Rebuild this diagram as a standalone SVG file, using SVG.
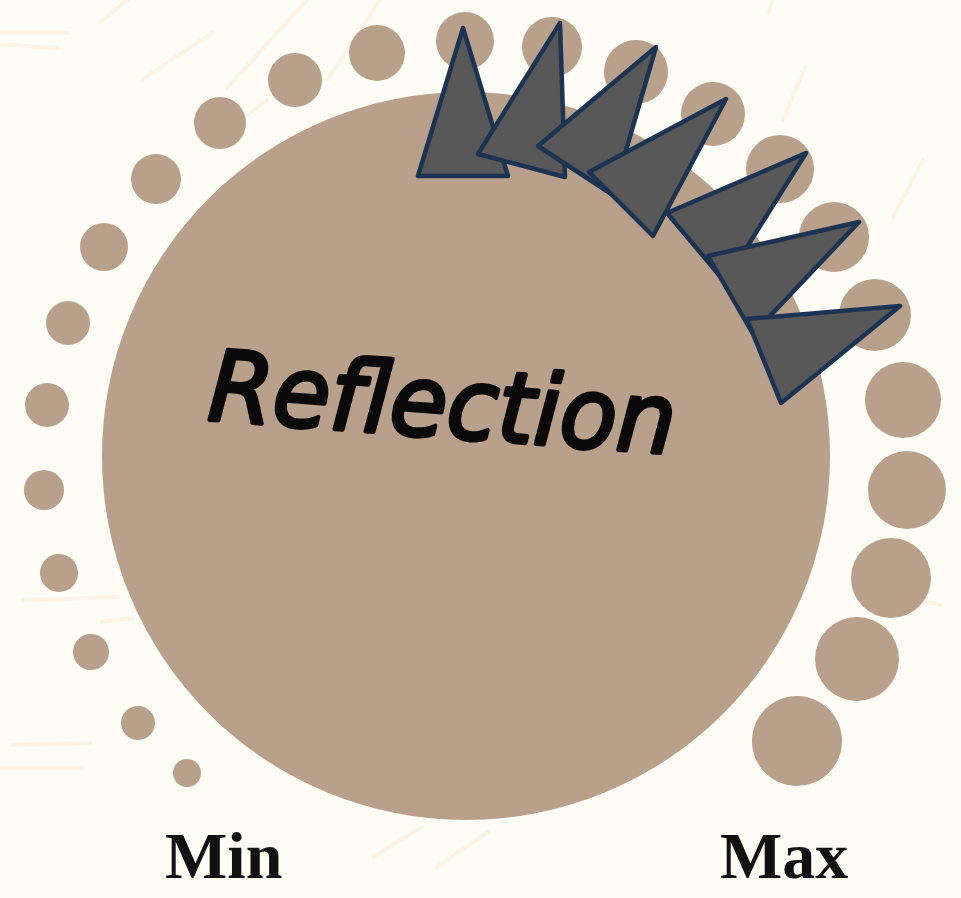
<svg xmlns="http://www.w3.org/2000/svg" width="961" height="898" viewBox="0 0 961 898">
<style>
.bg{fill:#fdfcf5}
.streak{stroke:#fbf1df;stroke-width:4;stroke-linecap:round;fill:none;opacity:0.7}
.dot{fill:#b8a08a}
.tri{fill:#585858;stroke:#1c3453;stroke-width:4.5;stroke-linejoin:round}
.title{font-family:"DejaVu Sans",sans-serif;font-style:italic;font-size:98px;fill:#0a0a0a;stroke:#0a0a0a;stroke-width:4;stroke-linejoin:round;stroke-linecap:round}
.lbl{font-family:"Liberation Serif",serif;font-weight:bold;font-size:66px;fill:#111}
</style>
<rect class="bg" x="0" y="0" width="961" height="898"/>
<g id="background-streaks">
<line class="streak" x1="0" y1="33" x2="68" y2="33"/>
<line class="streak" x1="0" y1="44" x2="57" y2="48"/>
<line class="streak" x1="100" y1="22" x2="128" y2="0"/>
<line class="streak" x1="143" y1="79" x2="212" y2="33"/>
<line class="streak" x1="227" y1="88" x2="307" y2="0"/>
<line class="streak" x1="247" y1="115" x2="267" y2="100"/>
<line class="streak" x1="327" y1="80" x2="380" y2="0"/>
<line class="streak" x1="23" y1="600" x2="118" y2="597"/>
<line class="streak" x1="102" y1="622" x2="133" y2="618"/>
<line class="streak" x1="12" y1="745" x2="90" y2="743"/>
<line class="streak" x1="0" y1="768" x2="82" y2="768"/>
<line class="streak" x1="373" y1="857" x2="422" y2="827"/>
<line class="streak" x1="437" y1="867" x2="488" y2="832"/>
<line class="streak" x1="768" y1="13" x2="773" y2="0"/>
<line class="streak" x1="783" y1="120" x2="805" y2="67"/>
<line class="streak" x1="893" y1="217" x2="923" y2="160"/>
<line class="streak" x1="890" y1="595" x2="940" y2="605"/>
</g>
<g id="dots">
<circle class="dot" cx="187" cy="773" r="14"/>
<circle class="dot" cx="138" cy="723" r="17"/>
<circle class="dot" cx="91" cy="652" r="18"/>
<circle class="dot" cx="59" cy="573" r="19"/>
<circle class="dot" cx="44" cy="490" r="20"/>
<circle class="dot" cx="47" cy="405" r="22"/>
<circle class="dot" cx="68" cy="323" r="22"/>
<circle class="dot" cx="104" cy="247" r="24"/>
<circle class="dot" cx="156" cy="179" r="25"/>
<circle class="dot" cx="220" cy="123" r="26"/>
<circle class="dot" cx="295" cy="80" r="27"/>
<circle class="dot" cx="377" cy="53" r="28"/>
<circle class="dot" cx="465" cy="41" r="29"/>
<circle class="dot" cx="552" cy="47" r="30"/>
<circle class="dot" cx="636" cy="72" r="32"/>
<circle class="dot" cx="713" cy="114" r="32"/>
<circle class="dot" cx="780" cy="169" r="34"/>
<circle class="dot" cx="834" cy="237" r="35"/>
<circle class="dot" cx="875" cy="315" r="36"/>
<circle class="dot" cx="903" cy="400" r="38"/>
<circle class="dot" cx="907" cy="490" r="39"/>
<circle class="dot" cx="891" cy="578" r="40"/>
<circle class="dot" cx="857" cy="659" r="42"/>
<circle class="dot" cx="797" cy="741" r="45"/>
</g>
<g id="reflection">
<circle class="dot" cx="466" cy="456" r="364"/>
<text class="title" x="440" y="437" text-anchor="middle" textLength="468" lengthAdjust="spacingAndGlyphs" transform="rotate(4.2 440 437)">Reflection</text>
</g>
<g id="pointers">
<polygon class="tri" points="463,28 418,176 508,176"/>
<polygon class="tri" points="560,23 478,154 565,177"/>
<polygon class="tri" points="656,47 538,146 613,195"/>
<polygon class="tri" points="726,99 589,172 653,236"/>
<polygon class="tri" points="806,153 667,213 725,282"/>
<polygon class="tri" points="859,222 708,256 753,334"/>
<polygon class="tri" points="900,306 747,319 781,403"/>
</g>
<g id="label-min">
<text class="lbl" x="165" y="878">Min</text>
</g>
<g id="label-max">
<text class="lbl" x="720" y="878">Max</text>
</g>
</svg>
